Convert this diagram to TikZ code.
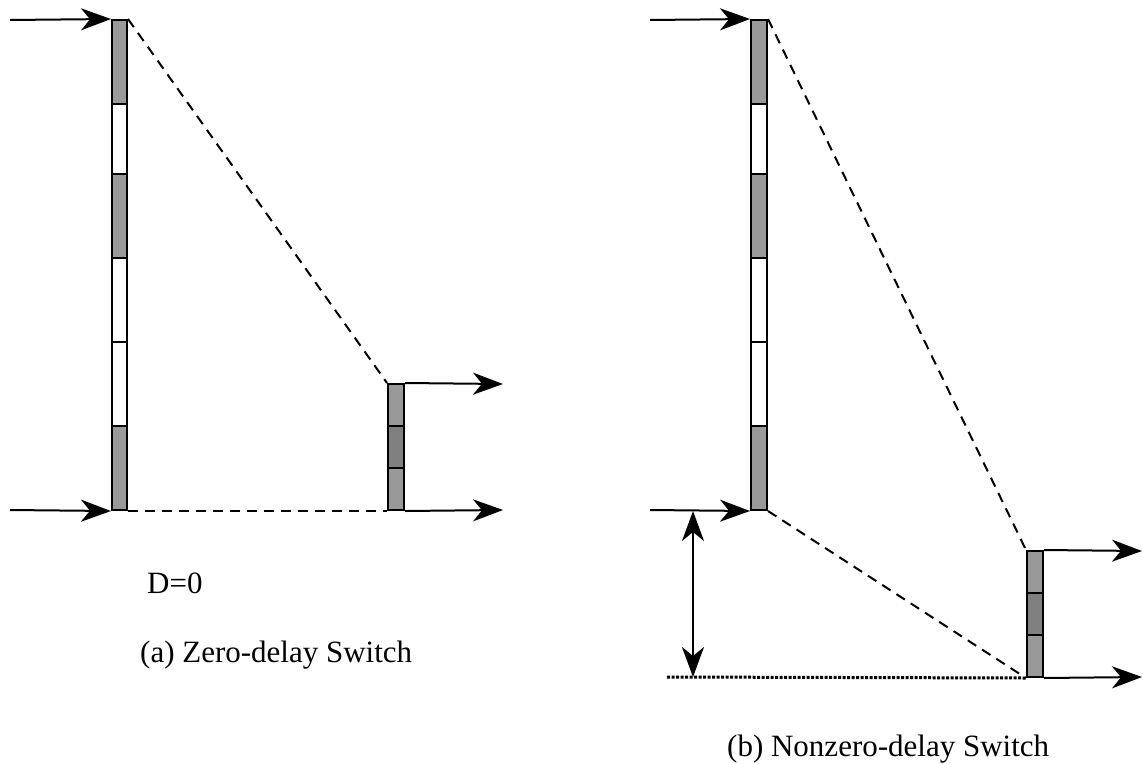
\documentclass[tikz,border=0pt]{standalone}
\usepackage{fontspec}
\setmainfont{Liberation Serif}
\usetikzlibrary{arrows.meta}

\definecolor{cellgray}{HTML}{999999}
\definecolor{darkcell}{HTML}{808080}

\tikzset{
  cell/.style={draw, line width=2pt, inner sep=0pt, minimum width=15pt},
  flow/.style={line width=2pt, -{Stealth[length=30pt, width=22pt, inset=9pt]}},
  span/.style={line width=2pt, {Stealth[length=30pt, width=22pt, inset=9pt]}-{Stealth[length=30pt, width=22pt, inset=9pt]}},
  guide/.style={line width=2pt, dash pattern=on 10pt off 7pt},
  floor/.style={line width=3pt, dash pattern=on 3pt off 1.5pt},
  caption/.style={anchor=base west, inner sep=0pt, font=\fontsize{31}{36}\selectfont}
}

\begin{document}
\begin{tikzpicture}[x=1pt, y=-1pt]
            \useasboundingbox (0, 0) rectangle (1143, 763);
            % (a) zero-delay switch
            \node [cell, fill=cellgray, minimum height=84pt] (la1) at (119.5, 62) {};
            \node [cell, fill=white, minimum height=70pt] (la2) at (119.5, 139) {};
            \node [cell, fill=cellgray, minimum height=84pt] (la3) at (119.5, 216) {};
            \node [cell, fill=white, minimum height=84pt] (la4) at (119.5, 300) {};
            \node [cell, fill=white, minimum height=84pt] (la5) at (119.5, 384) {};
            \node [cell, fill=cellgray, minimum height=84pt] (la6) at (119.5, 468) {};
            \node [cell, fill=cellgray, minimum height=42pt, minimum width=16pt] (sa1) at (396, 405) {};
            \node [cell, fill=darkcell, minimum height=42pt, minimum width=16pt] (sa2) at (396, 447) {};
            \node [cell, fill=cellgray, minimum height=42pt, minimum width=16pt] (sa3) at (396, 489) {};
            \coordinate (ina1) at (10, 20);
            \coordinate (ina2) at (10, 510);
            \coordinate (outa1) at (503, 384);
            \coordinate (outa2) at (503, 510);
            \draw [flow] (ina1) -- (la1.north west);
            \draw [flow] (ina2) -- (la6.south west);
            \draw [flow] (sa1.north east) -- (outa1);
            \draw [flow] (sa3.south east) -- (outa2);
            \draw [guide] (la1.north east) -- (sa1.north west);
            \draw [guide] (la6.south east) -- (sa3.south west);
            \node [caption] (delay) at (147, 593) {D=0};
            \node [caption] (capa) at (140, 662) {(a) Zero-delay Switch};
            % (b) nonzero-delay switch
            \node [cell, fill=cellgray, minimum height=84pt, minimum width=16pt] (lb1) at (759, 62) {};
            \node [cell, fill=white, minimum height=70pt, minimum width=16pt] (lb2) at (759, 139) {};
            \node [cell, fill=cellgray, minimum height=84pt, minimum width=16pt] (lb3) at (759, 216) {};
            \node [cell, fill=white, minimum height=84pt, minimum width=16pt] (lb4) at (759, 300) {};
            \node [cell, fill=white, minimum height=84pt, minimum width=16pt] (lb5) at (759, 384) {};
            \node [cell, fill=cellgray, minimum height=84pt, minimum width=16pt] (lb6) at (759, 468) {};
            \node [cell, fill=cellgray, minimum height=42pt, minimum width=16pt] (sb1) at (1035, 572) {};
            \node [cell, fill=darkcell, minimum height=42pt, minimum width=16pt] (sb2) at (1035, 614) {};
            \node [cell, fill=cellgray, minimum height=42pt, minimum width=16pt] (sb3) at (1035, 656) {};
            \coordinate (inb1) at (650, 20);
            \coordinate (inb2) at (650, 510);
            \coordinate (outb1) at (1142, 551);
            \coordinate (outb2) at (1142, 677);
            \coordinate (floorb) at (667, 677);
            \coordinate (dtop) at (693, 511);
            \coordinate (dbot) at (693, 677);
            \draw [flow] (inb1) -- (lb1.north west);
            \draw [flow] (inb2) -- (lb6.south west);
            \draw [flow] (sb1.north east) -- (outb1);
            \draw [flow] (sb3.south east) -- (outb2);
            \draw [guide] (lb1.north east) -- (sb1.north west);
            \draw [guide] (lb6.south east) -- (sb3.south west);
            \draw [floor] (floorb) -- (sb3.south west);
            \draw [span] (dtop) -- (dbot);
            \node [caption] (capb) at (727, 756) {(b) Nonzero-delay Switch};
            \end{tikzpicture}
\end{document}
